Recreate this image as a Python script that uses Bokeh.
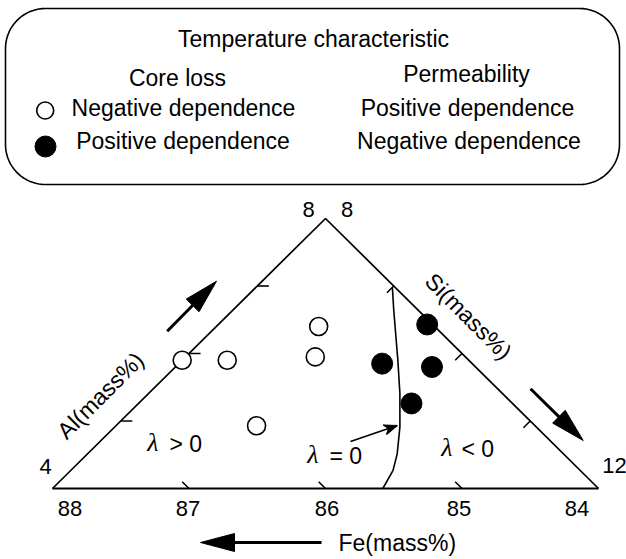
import numpy as np
from bokeh.plotting import figure
from bokeh.models import Range1d
from bokeh.core.properties import value
from bokeh.embed import file_html
from bokeh.resources import INLINE

# ---------------- data (mass%) ----------------
open_al = [5.9, 5.9, 6.4, 5.95, 4.93]          # core loss: negative dependence
open_si = [8.0, 8.33, 8.75, 8.95, 9.03]
filled_al = [6.43, 5.85, 5.80, 5.26]           # core loss: positive dependence
filled_si = [9.53, 9.49, 9.88, 10.0]
curve_al = [6.98, 6.64, 5.90, 5.41, 4.91, 4.51, 4.27, 4.0]   # lambda = 0 boundary
curve_si = [9.0, 9.18, 9.58, 9.84, 10.09, 10.27, 10.36, 10.42]
fe_labels = [88, 87, 86, 85, 84]
fe_ticks = [87, 86, 85]
al_ticks = [5, 6, 7]
si_ticks = [9, 10, 11]
al_ends = [4, 8]
si_ends = [8, 12]

legend_title = "Temperature characteristic"
col_heads = ["Core loss", "Permeability"]
core_loss_txt = ["Negative dependence", "Positive dependence"]
perm_txt = ["Positive dependence", "Negative dependence"]

# ---------------- geometry helpers ----------------
X0, Y0, SX, SY = 52.0, 488.0, 136.5, 135.0    # layout of the triangle in the page


def tern(al, si):
    al = np.asarray(al, dtype=float)
    si = np.asarray(si, dtype=float)
    return (si - 8.0) + 0.5 * (al - 4.0), 0.5 * (al - 4.0)


def X(xp):
    return (np.asarray(xp, dtype=float) - X0) / SX


def Y(yp):
    return (Y0 - np.asarray(yp, dtype=float)) / SY


def to_px(x, y):
    return X0 + SX * np.asarray(x), Y0 - SY * np.asarray(y)


FONT = value("Liberation Sans")
SERIF = value("Liberation Serif")

p = figure(width=626, height=559, x_range=Range1d(float(X(0)), float(X(626))),
           y_range=Range1d(float(Y(559)), float(Y(0))), output_backend="svg",
           toolbar_location=None, min_border=0, x_axis_location=None,
           y_axis_location=None)
p.xgrid.visible = False
p.ygrid.visible = False
p.outline_line_color = None
p.background_fill_color = "white"
p.border_fill_color = "white"

# ---------------- legend box ----------------
def rounded_rect(l, t, r, b, rad, n=20):
    pts = []
    for cx, cy, a0 in [(r - rad, t + rad, -90), (r - rad, b - rad, 0),
                       (l + rad, b - rad, 90), (l + rad, t + rad, 180)]:
        for a in np.linspace(a0, a0 + 90, n):
            pts.append((cx + rad * np.cos(np.radians(a)), cy + rad * np.sin(np.radians(a))))
    pts.append(pts[0])
    xs, ys = zip(*pts)
    return X(xs), Y(ys)

bx, by = rounded_rect(5, 8, 619, 184, 40)
p.line(bx, by, line_color="black", line_width=1.6)

p.text(x=[float(X(313))], y=[float(Y(38))], text=[legend_title], text_font=FONT,
       text_font_size="23px", text_align="center", text_baseline="middle")
p.text(x=list(X([177, 466])), y=list(Y([77, 73])), text=col_heads, text_font=FONT,
       text_font_size="23px", text_align="center", text_baseline="middle")
p.text(x=list(X([183, 182.5])), y=list(Y([107, 140])), text=core_loss_txt, text_font=FONT,
       text_font_size="23px", text_align="center", text_baseline="middle")
p.text(x=list(X([467, 468.5])), y=list(Y([107, 140])), text=perm_txt, text_font=FONT,
       text_font_size="23px", text_align="center", text_baseline="middle")
p.scatter(x=[float(X(44.7))], y=[float(Y(110))], size=17, marker="circle",
          fill_color="white", line_color="black", line_width=1.6)
p.scatter(x=[float(X(45))], y=[float(Y(146))], size=21, marker="circle",
          fill_color="black", line_color="black")

# ---------------- triangle ----------------
tx, ty = tern([4, 8, 4], [8, 8, 12])
p.line([tx[0], tx[1], tx[2]], [ty[0], ty[1], ty[2]], line_color="black", line_width=1.7)
p.line([tx[0], tx[2]], [ty[0], ty[2]], line_color="black", line_width=2.2)

# ticks
fe = np.array(fe_ticks, dtype=float)
sx0, sy0 = tern(np.full_like(fe, 4.0), 96 - fe)
sx1, sy1 = tern(np.full_like(fe, 4.1), 95.9 - fe)
p.segment(sx0, sy0, sx1, sy1, line_color="black", line_width=1.6)

al = np.array(al_ticks, dtype=float)
ax0, ay0 = tern(al, np.full_like(al, 8.0))
ax1, ay1 = tern(al, np.full_like(al, 8.085))
p.segment(ax0, ay0, ax1, ay1, line_color="black", line_width=1.6)

si = np.array(si_ticks, dtype=float)
rx0, ry0 = tern(16 - si, si)
rx1, ry1 = tern(16 - si - 0.1, si)
p.segment(rx0, ry0, rx1, ry1, line_color="black", line_width=1.6)

# tick labels (Fe along the base)
fl = np.array(fe_labels, dtype=float)
lx, ly = tern(np.full_like(fl, 4.0), 96 - fl)
lpx, lpy = to_px(lx, ly)
lpx = lpx + np.array([17.5, -1, 1.5, -3, -21.5])
p.text(x=X(lpx), y=Y(lpy + 20), text=[str(v) for v in fe_labels], text_font=FONT,
       text_font_size="22px", text_align="center", text_baseline="middle")

# end labels of Al and Si
ex, ey = tern([al_ends[0], al_ends[1]], [8, 8])
epx, epy = to_px(ex, ey)
p.text(x=X(epx + np.array([-7, -17])), y=Y(epy + np.array([-22, -9])),
       text=[str(v) for v in al_ends], text_font=FONT, text_font_size="22px",
       text_align="center", text_baseline="middle")
ex, ey = tern([8, 4], [si_ends[0], si_ends[1]])
epx, epy = to_px(ex, ey)
p.text(x=X(epx + np.array([21.5, 16])), y=Y(epy + np.array([-9, -23])),
       text=[str(v) for v in si_ends], text_font=FONT, text_font_size="22px",
       text_align="center", text_baseline="middle")

# axis titles
p.text(x=[float(X(100))], y=[float(Y(395))], text=["Al(mass%)"], angle=np.pi / 4,
       text_font=FONT, text_font_size="23px", text_align="center", text_baseline="middle")
p.text(x=[float(X(468))], y=[float(Y(316))], text=["Si(mass%)"], angle=-np.pi / 4,
       text_font=FONT, text_font_size="23px", text_align="center", text_baseline="middle")
p.text(x=[float(X(338))], y=[float(Y(542))], text=["Fe(mass%)"],
       text_font=FONT, text_font_size="23px", text_align="left", text_baseline="middle")


# big arrows
def big_arrow(tail, tip, L=34, W=18, lw=3):
    tail = np.array(tail, dtype=float)
    tip = np.array(tip, dtype=float)
    u = (tip - tail) / np.linalg.norm(tip - tail)
    n = np.array([-u[1], u[0]])
    base = tip - L * u
    p.line(X([tail[0], base[0] + 2 * u[0]]), Y([tail[1], base[1] + 2 * u[1]]),
           line_color="black", line_width=lw)
    hx = [tip[0], base[0] + W / 2 * n[0], base[0] - W / 2 * n[0]]
    hy = [tip[1], base[1] + W / 2 * n[1], base[1] - W / 2 * n[1]]
    p.patch(X(hx), Y(hy), fill_color="black", line_color="black", line_width=1)

big_arrow((166.7, 330.7), (216, 280.7))
big_arrow((530, 388.3), (582.7, 440))
big_arrow((321, 542), (200, 542))

# ---------------- lambda = 0 boundary ----------------
cx, cy = tern(curve_al, curve_si)
p.line(cx, cy, line_color="black", line_width=1.6)

# small pointer arrow to boundary
t0 = np.array([350.0, 441.0])
t1 = np.array([396.7, 425.0])
p.line(X([t0[0], t1[0]]), Y([t0[1], t1[1]]), line_color="black", line_width=1.8)
u = (t1 - t0) / np.linalg.norm(t1 - t0)
nv = np.array([-u[1], u[0]])
hb = t1 - 13 * u
p.patch(X([hb[0] + 5 * nv[0], t1[0], hb[0] - 5 * nv[0], t1[0] - 9 * u[0]]),
        Y([hb[1] + 5 * nv[1], t1[1], hb[1] - 5 * nv[1], t1[1] - 9 * u[1]]),
        fill_color="black", line_color="black", line_width=1.2)

# lambda labels
p.text(x=list(X([152.5, 312.5, 446.5])), y=list(Y([442, 453.5, 447])),
       text=["λ", "λ", "λ"], text_font=SERIF, text_font_style="italic",
       text_font_size="26px", text_align="center", text_baseline="middle")
p.text(x=list(X([169, 329, 461])), y=list(Y([443.5, 455, 448.5])),
       text=["> 0", "= 0", "< 0"], text_font=FONT,
       text_font_size="23px", text_align="left", text_baseline="middle")

# ---------------- data points ----------------
ox, oy = tern(open_al, open_si)
p.scatter(ox, oy, size=18, marker="circle", fill_color="white", line_color="black",
          line_width=1.6)
fx, fy = tern(filled_al, filled_si)
p.scatter(fx, fy, size=21, marker="circle", fill_color="black", line_color="black")

open("out.html", "w").write(file_html(p, INLINE))
